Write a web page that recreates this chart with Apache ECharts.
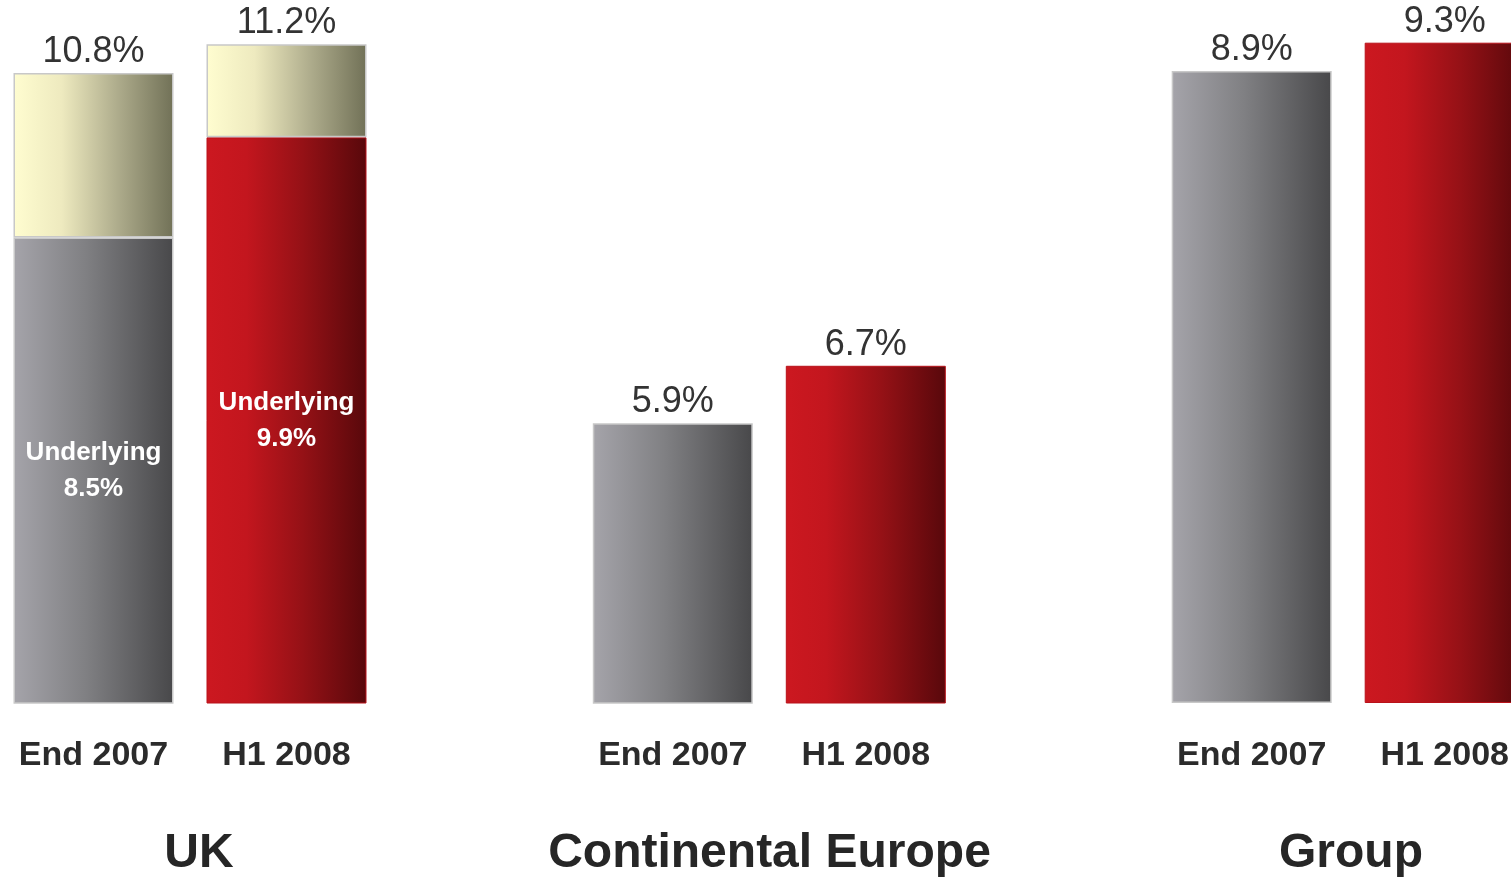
<!DOCTYPE html>
<html>
<head>
<meta charset="utf-8">
<script src="https://cdn.jsdelivr.net/npm/echarts@6/dist/echarts.min.js"></script>
<style>
  html, body { margin: 0; padding: 0; background: #ffffff; }
  #chart { width: 1511px; height: 880px; }
</style>
</head>
<body>
<div id="chart"></div>
<script>
// ---- Data ----
const categories = ['End 2007', 'H1 2008'];
const panelTitles = ['UK', 'Continental Europe', 'Group'];
const ukUnderlying = [8.5, 9.9];
const ukTotal = [10.8, 11.2];
const ceValues = [5.9, 6.7];
const groupValues = [8.9, 9.3];
const underlyingLabel = 'Underlying';

// ---- Styles ----
const FONT = '"Liberation Sans", Arial, Helvetica, sans-serif';
function hGrad(stops) {
  return new echarts.graphic.LinearGradient(0, 0, 1, 0,
    stops.map(s => ({ offset: s[0], color: s[1] })));
}
const greyFill = () => hGrad([[0, '#a5a4aa'], [0.45, '#808083'], [1, '#48484a']]);
const redFill = () => hGrad([[0, '#cc1820'], [0.25, '#c3161e'], [0.6, '#951116'], [1, '#58080b']]);
const yellowFill = () => hGrad([[0, '#fffdd0'], [0.3, '#eeeabf'], [0.65, '#aeac8c'], [1, '#717157']]);
const greyStyle = () => ({ color: greyFill(), borderColor: '#c8c8c8', borderWidth: 1.5 });
const redStyle = () => ({ color: redFill(), borderColor: '#b8121a', borderWidth: 1 });
const pairStyles = [greyStyle, redStyle];

const valueLabel = {
  show: true, position: 'top', distance: 3,
  fontFamily: FONT, fontSize: 36, color: '#333333'
};

// ---- Layout ----
const gridDefs = [
  { left: -3, width: 386, top: 22.8, bottom: 177, min: 2, max: 11.5 },
  { left: 576.3, width: 386, top: 21.4, bottom: 177, min: 2, max: 11.5 },
  { left: 1155.2, width: 386, top: 28.5, bottom: 177, min: 0, max: 9.5 }
];
const titleX = [199, 769.5, 1351];

const grids = gridDefs.map(g => ({
  left: g.left, width: g.width, top: g.top, bottom: g.bottom,
  containLabel: false, outerBoundsMode: 'none'
}));
const xAxes = gridDefs.map((g, i) => ({
  type: 'category', gridIndex: i, data: categories,
  axisLine: { show: false }, axisTick: { show: false }, splitLine: { show: false },
  axisLabel: { margin: 36, fontFamily: FONT, fontSize: 34, fontWeight: 'bold', color: '#2b2b2b', interval: 0 }
}));
const yAxes = gridDefs.map((g, i) => ({
  type: 'value', gridIndex: i, min: g.min, max: g.max, show: false, splitLine: { show: false }
}));

const series = [
  {
    name: 'UK underlying', type: 'bar', stack: 'uk', xAxisIndex: 0, yAxisIndex: 0, barWidth: 160,
    data: ukUnderlying.map((v, i) => ({
      value: v,
      itemStyle: pairStyles[i](),
      label: {
        show: true, position: 'inside', formatter: underlyingLabel + '\n' + v.toFixed(1) + '%',
        fontFamily: FONT, fontSize: 26, fontWeight: 'bold', color: '#ffffff', lineHeight: 36
      }
    }))
  },
  {
    name: 'UK total', type: 'bar', stack: 'uk', xAxisIndex: 0, yAxisIndex: 0, barWidth: 160,
    data: ukTotal.map((t, i) => ({
      value: +(t - ukUnderlying[i]).toFixed(2),
      itemStyle: { color: yellowFill(), borderColor: '#c8c8c8', borderWidth: 1.5 },
      label: Object.assign({}, valueLabel, { formatter: t.toFixed(1) + '%' })
    }))
  },
  {
    name: 'Continental Europe', type: 'bar', xAxisIndex: 1, yAxisIndex: 1, barWidth: 160,
    data: ceValues.map((v, i) => ({ value: v, itemStyle: pairStyles[i]() })),
    label: Object.assign({}, valueLabel, { formatter: p => p.value.toFixed(1) + '%' })
  },
  {
    name: 'Group', type: 'bar', xAxisIndex: 2, yAxisIndex: 2, barWidth: 160,
    data: groupValues.map((v, i) => ({ value: v, itemStyle: pairStyles[i]() })),
    label: Object.assign({}, valueLabel, { formatter: p => p.value.toFixed(1) + '%' })
  }
];

const graphics = panelTitles.map((t, i) => ({
  type: 'text', x: titleX[i], y: 854,
  style: {
    text: t, fill: '#262626',
    font: 'bold 48px ' + FONT,
    textAlign: 'center', textVerticalAlign: 'middle'
  }
}));

const chart = echarts.init(document.getElementById('chart'), null, { renderer: 'canvas' });
chart.setOption({
  animation: false,
  backgroundColor: '#ffffff',
  grid: grids,
  xAxis: xAxes,
  yAxis: yAxes,
  series: series,
  graphic: graphics
});
</script>
</body>
</html>
